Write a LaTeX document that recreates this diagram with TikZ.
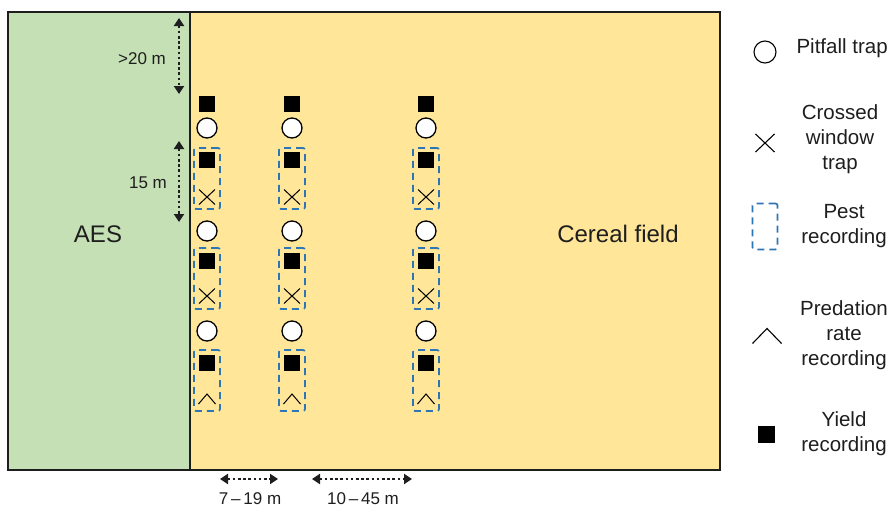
\documentclass[tikz,border=0pt]{standalone}
\usepackage{fontspec}
\setmainfont{Liberation Sans}
\usetikzlibrary{arrows.meta,shapes.misc}
\definecolor{aesgreen}{RGB}{197,224,180}
\definecolor{fieldyellow}{RGB}{255,230,153}
\definecolor{pestblue}{RGB}{46,117,182}
\definecolor{txt}{RGB}{30,30,30}
\tikzset{
  pitfall/.style={circle,draw=black,fill=white,line width=1.3pt,minimum size=20pt,inner sep=0pt},
  yieldsq/.style={rectangle,fill=black,minimum size=16pt,inner sep=0pt},
  crossw/.style={cross out,draw=black,line width=1pt,minimum width=15pt,minimum height=14pt,inner sep=0pt},
  pestbox/.style={rectangle,draw=pestblue,line width=1.7pt,dash pattern=on 7pt off 5pt,rounded corners=2pt,minimum width=26pt,minimum height=61pt,inner sep=0pt},
  dimarrow/.style={line width=2.6pt,dash pattern=on 2.6pt off 2.6pt,{Triangle[width=10pt,length=8pt]}-{Triangle[width=10pt,length=8pt]},txt},
  smalllab/.style={font=\fontsize{17}{19}\selectfont,text=txt},
  biglab/.style={font=\fontsize{24}{28}\selectfont,text=txt},
  leglab/.style={font=\fontsize{20.5}{25}\selectfont,text=txt,align=center},
  caret/.pic={\draw[line width=1pt,black] (-8.5,5) -- (0,-5) -- (8.5,5);},
  bigcaret/.pic={\draw[line width=1.1pt,black] (-14.5,7.5) -- (0,-7.5) -- (14.5,7.5);}
}
\begin{document}
\begin{tikzpicture}[x=1pt,y=-1pt]
\useasboundingbox (0,0) rectangle (894,509);
% field areas
\fill[aesgreen] (8,12) rectangle (190,470);
\fill[fieldyellow] (190,12) rectangle (720,470);
\draw[line width=1.3pt,txt] (8,12) rectangle (720,470);
\draw[line width=1.3pt,txt] (190,12) -- (190,470);
\node[biglab] (aes) at (98,234) {AES};
\node[biglab] (cereal) at (618,234) {Cereal field};
% columns
\foreach \c/\x in {a/207,b/292,c/426}{
  \node[yieldsq] (\c sq0) at (\x,104) {};
  \node[pitfall] (\c pf1) at (\x,128) {};
  \node[pestbox] (\c box1) at (\x,178.5) {};
  \node[yieldsq] (\c sq1) at (\x,160) {};
  \node[crossw] (\c cw1) at (\x,197) {};
  \node[pitfall] (\c pf2) at (\x,231) {};
  \node[pestbox] (\c box2) at (\x,278.5) {};
  \node[yieldsq] (\c sq2) at (\x,261) {};
  \node[crossw] (\c cw2) at (\x,296) {};
  \node[pitfall] (\c pf3) at (\x,331) {};
  \node[pestbox] (\c box3) at (\x,380.5) {};
  \node[yieldsq] (\c sq3) at (\x,363) {};
  \pic at (\x,399) {caret};
}
% dimension arrows
\coordinate (d1a) at (179,18);
\coordinate (d1b) at (179,94);
\draw[dimarrow] (d1a) -- (d1b);
\node[smalllab] (l1) at (142,59) {>20 m};
\coordinate (d2a) at (179,141);
\coordinate (d2b) at (179,222);
\draw[dimarrow] (d2a) -- (d2b);
\node[smalllab] (l2) at (148,183) {15 m};
\coordinate (d3a) at (220,479);
\coordinate (d3b) at (278,479);
\draw[dimarrow] (d3a) -- (d3b);
\node[smalllab] (l3) at (250,499) {7\,–\,19 m};
\coordinate (d4a) at (312,479);
\coordinate (d4b) at (412,479);
\draw[dimarrow] (d4a) -- (d4b);
\node[smalllab] (l4) at (363,499) {10\,–\,45 m};
% legend
\node[pitfall,line width=1.1pt,minimum size=22pt] (lgpf) at (765,52) {};
\node[leglab,anchor=west] (lgpft) at (793,48) {Pitfall trap};
\node[cross out,draw=black,line width=1.1pt,minimum width=18pt,minimum height=17pt,inner sep=0pt] (lgcw) at (765,143) {};
\node[leglab] (lgcwt) at (840,139) {Crossed\\window\\trap};
\node[pestbox,minimum width=25pt,minimum height=46pt] (lgpb) at (765,226.5) {};
\node[leglab] (lgpbt) at (844,226.5) {Pest\\recording};
\pic at (767,336) {bigcaret};
\node[leglab] (lgprt) at (844,335) {Predation\\rate\\recording};
\node[yieldsq,minimum size=17pt] (lgys) at (766,434) {};
\node[leglab] (lgyst) at (844,434) {Yield\\recording};
\end{tikzpicture}
\end{document}
